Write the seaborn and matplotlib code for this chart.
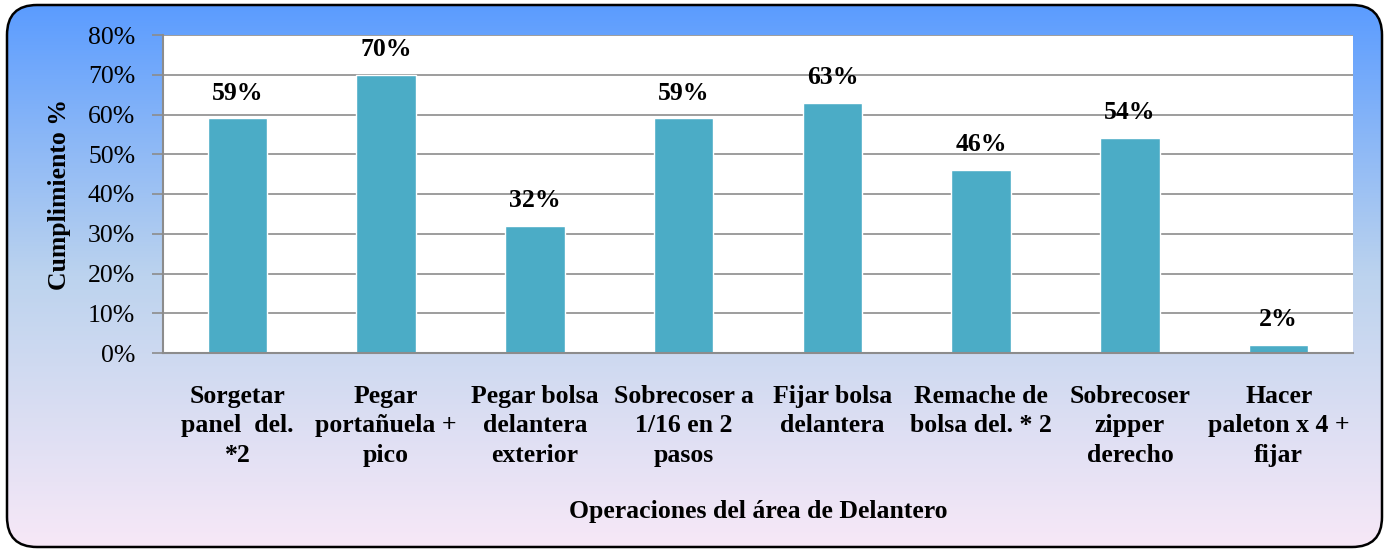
import numpy as np
import pandas as pd
import matplotlib
matplotlib.use("Agg")
import matplotlib.pyplot as plt
from matplotlib.patches import FancyBboxPatch
from matplotlib.colors import LinearSegmentedColormap
import seaborn as sns

operaciones = [
    "Sorgetar\npanel  del.\n*2",
    "Pegar\nportañuela +\npico",
    "Pegar bolsa\ndelantera\nexterior",
    "Sobrecoser a\n1/16 en 2\npasos",
    "Fijar bolsa\ndelantera",
    "Remache de\nbolsa del. * 2",
    "Sobrecoser\nzipper\nderecho",
    "Hacer\npaleton x 4 +\nfijar",
]
cumplimiento = [59, 70, 32, 59, 63, 46, 54, 2]
y_ticks = [0, 10, 20, 30, 40, 50, 60, 70, 80]

sns.set_theme(style="white")
plt.rcParams["font.family"] = ["Liberation Serif", "DejaVu Serif"]
plt.rcParams["text.color"] = "black"
plt.rcParams["axes.labelcolor"] = "black"
plt.rcParams["xtick.color"] = "black"
plt.rcParams["ytick.color"] = "black"

FS = 18.5

fig = plt.figure(figsize=(13.9, 5.5), dpi=100)

# Gradient panel with rounded corners behind the chart
bg = fig.add_axes([0, 0, 1, 1], zorder=-10)
bg.set_xlim(0, 1390)
bg.set_ylim(550, 0)
bg.axis("off")
cmap = LinearSegmentedColormap.from_list("panel", ["#5b9cff", "#bcd3ee", "#f7e8f7"])
grad = np.linspace(0, 1, 256).reshape(-1, 1)
panel = FancyBboxPatch((7, 5), 1375, 542, boxstyle="round,pad=0,rounding_size=30",
                       facecolor="none", edgecolor="black", linewidth=1.8)
bg.add_patch(panel)
img = bg.imshow(grad, cmap=cmap, aspect="auto", extent=(7, 1382, 547, 5))
img.set_clip_path(panel)

ax = fig.add_axes([163 / 1390, 1 - 353 / 550, (1353 - 163) / 1390, (353 - 35) / 550])
df = pd.DataFrame({"op": operaciones, "val": cumplimiento})
sns.barplot(data=df, x="op", y="val", color="#4bacc6", saturation=1, width=0.4, ax=ax)
ax.set_facecolor("white")
ax.set_ylim(0, 80)
ax.set_yticks(y_ticks)
ax.set_yticklabels([f"{v}%" for v in y_ticks], fontsize=FS)
ax.yaxis.grid(True, color="#8c8c8c", linewidth=1.2)
ax.set_axisbelow(True)
ax.tick_params(axis="y", which="both", left=True, length=8, color="#8c8c8c", width=1.2, pad=12)
ax.tick_params(axis="x", bottom=False, pad=17)
for lbl in ax.get_xticklabels():
    lbl.set_fontsize(FS)
    lbl.set_fontweight("bold")
    lbl.set_linespacing(1.36)
    lbl.set_verticalalignment("top")
for s in ["top", "right"]:
    ax.spines[s].set_visible(False)
for s in ["left", "bottom"]:
    ax.spines[s].set_color("#8c8c8c")
    ax.spines[s].set_linewidth(1.5)

for i, v in enumerate(cumplimiento):
    ax.annotate(f"{v}%", (i, v), xytext=(0, 10), textcoords="offset points",
                ha="center", va="bottom", fontsize=FS, fontweight="bold")

ax.set_ylabel("Cumplimiento %", fontsize=FS, fontweight="bold", labelpad=12)
ax.set_xlabel("Operaciones del área de Delantero", fontsize=FS, fontweight="bold", labelpad=24)

fig.savefig("out.png", dpi=100)
